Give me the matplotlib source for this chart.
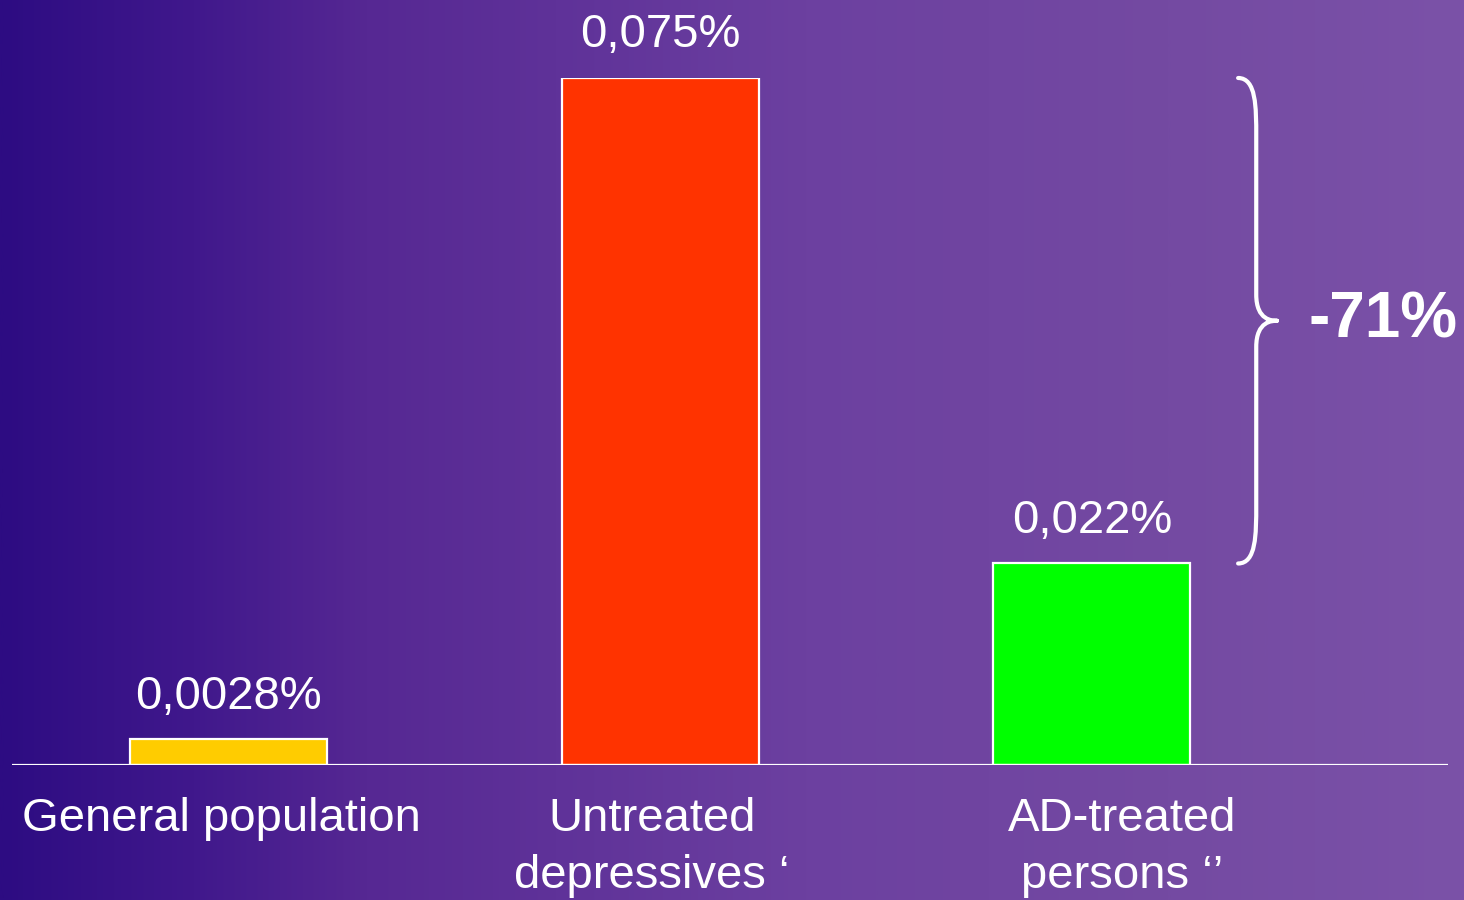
import numpy as np
import matplotlib.pyplot as plt
from matplotlib.path import Path
from matplotlib.patches import PathPatch
from matplotlib.colors import LinearSegmentedColormap

plt.rcParams["font.family"] = ["Liberation Sans", "DejaVu Sans"]

# data
groups = ["General population", "Untreated\ndepressives \u2018", "AD-treated\npersons \u2018\u2019"]
rates = [0.0028, 0.075, 0.022]          # percent
rate_labels = ["0,0028%", "0,075%", "0,022%"]
bar_colors = ["#ffcc00", "#ff3300", "#00ff00"]

# background gradient (left dark indigo -> right lighter purple)
bg = LinearSegmentedColormap.from_list("bg", [
    (0.00, "#2d0c82"),
    (0.13, "#40188c"),
    (0.25, "#562893"),
    (0.38, "#5f3299"),
    (0.55, "#6c40a0"),
    (0.80, "#744aa2"),
    (1.00, "#7b52a8"),
])

fig = plt.figure(figsize=(14.64, 9), dpi=100)
bg_ax = fig.add_axes([0, 0, 1, 1])
bg_ax.imshow(np.linspace(0, 1, 512)[None, :], aspect="auto", cmap=bg, extent=[0, 1, 0, 1])
bg_ax.axis("off")

ax = fig.add_axes([12 / 1464, 135 / 900, 1436 / 1464, 687 / 900])
ax.patch.set_alpha(0)
x = np.arange(len(groups))
ax.bar(x, rates, width=0.457, color=bar_colors, edgecolor="white", linewidth=1.6, zorder=2)
ax.set_xlim(-0.5025, 2.8254)
ax.set_ylim(0, 0.075)
ax.axhline(0, color="white", lw=1.6, zorder=3)
for s in ax.spines.values():
    s.set_visible(False)
ax.set_xticks([])
ax.set_yticks([])

# value labels
for xi, v, t in zip(x, rates, rate_labels):
    ax.annotate(t, (xi, v), xytext=(0, 22), textcoords="offset points",
                ha="center", va="baseline", color="white", fontsize=34, clip_on=False)

# category labels (slightly shifted as in the slide)
label_shift = [-0.016, -0.019, 0.07]
for xi, g, dx in zip(x, groups, label_shift):
    ax.annotate(g, (xi + dx, 0), xytext=(0, -23), textcoords="offset points",
                ha="center", va="top", color="white", fontsize=34,
                linespacing=1.38, annotation_clip=False)

# brace between untreated and treated bars
y_top, y_bot = rates[1], rates[2]
y_mid = (y_top + y_bot) / 2
x0, x1, x2 = 2.339, 2.381, 2.429
dy = (y_top - y_bot) * 0.06
verts = [
    (x0, y_top),
    (x1, y_top), (x1, y_top - dy), (x1, y_top - 2 * dy),
    (x1, y_mid + dy * 0.9),
    (x1, y_mid), (x2 - 0.01, y_mid), (x2, y_mid),
    (x2 - 0.01, y_mid), (x1, y_mid), (x1, y_mid - dy * 0.9),
    (x1, y_bot + 2 * dy),
    (x1, y_bot + dy), (x1, y_bot), (x0, y_bot),
]
codes = [Path.MOVETO,
         Path.CURVE4, Path.CURVE4, Path.CURVE4,
         Path.LINETO,
         Path.CURVE4, Path.CURVE4, Path.CURVE4,
         Path.CURVE4, Path.CURVE4, Path.CURVE4,
         Path.LINETO,
         Path.CURVE4, Path.CURVE4, Path.CURVE4]
ax.add_patch(PathPatch(Path(verts, codes), fill=False, edgecolor="white",
                       lw=3, capstyle="round", joinstyle="round", clip_on=False))

change = round((rates[2] - rates[1]) / rates[1] * 100)
ax.text(2.501, y_mid, f"{change}%", ha="left", va="center", color="white",
        fontsize=46, fontweight="bold", clip_on=False)

fig.savefig("out.png", dpi=100)
